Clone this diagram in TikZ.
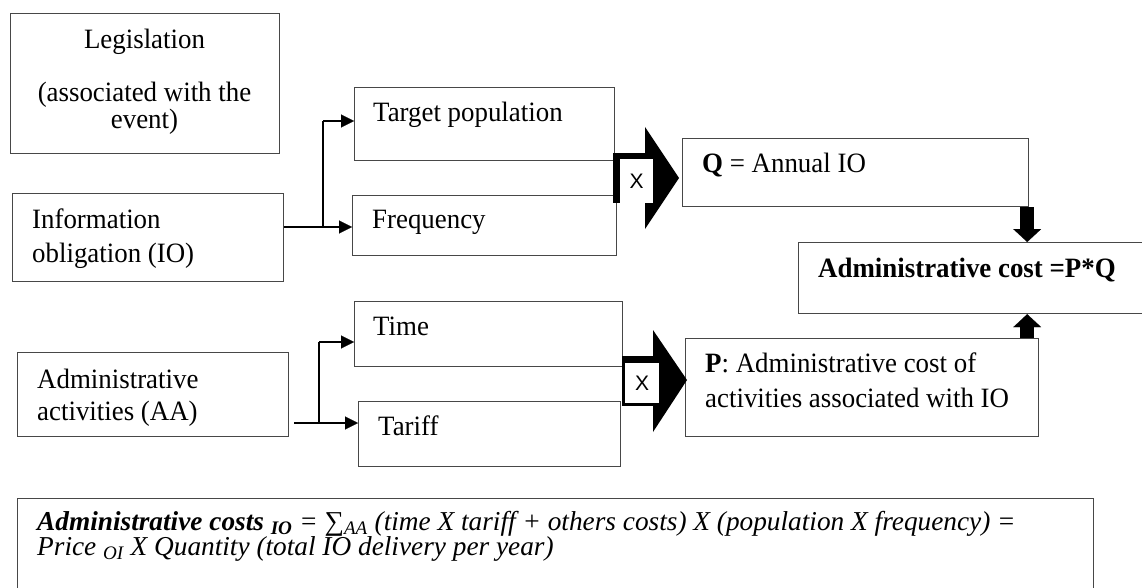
\documentclass[tikz,border=0pt]{standalone}
\usepackage{fontspec}
\setmainfont{Liberation Serif}[FakeStretch=0.96]
\newfontfamily\formfont{Liberation Serif}
\newfontfamily\xsans{Liberation Sans}
\usetikzlibrary{arrows.meta}
\begin{document}
\begin{tikzpicture}[x=1pt,y=-1pt,
  box/.style={draw=black!72,line width=1.2pt,inner sep=0pt,anchor=north west},
  txt/.style={inner sep=0pt,font=\fontsize{28}{33}\selectfont},
  ftxt/.style={inner sep=0pt,anchor=base west,font=\formfont\fontsize{27.3}{25}\selectfont\itshape},
  link/.style={draw=black,line width=1.2pt},
  feed/.style={draw=black,line width=2.6pt,-{Triangle[length=13pt 0 0,width=13pt 0 0,line width=0.1pt 0 0]}},
  fat/.style={draw=black,line width=14pt,-{Triangle[length=13pt 0 0,width=28pt 0 0,line width=0.1pt 0 0]}},
  xbox/.style={fill=white,inner sep=0pt,font=\xsans\fontsize{21}{21}\selectfont}
]
\fill[white] (0,0) rectangle (1142,588);
\useasboundingbox (0,0) rectangle (1142,588);
\begin{scope}
\clip (0,0) rectangle (1142,588);

% boxes
\node[box,minimum width=269pt,minimum height=140pt] (leg) at (10,13) {};
\node[box,minimum width=271pt,minimum height=88pt] (io) at (12,193) {};
\node[box,minimum width=271pt,minimum height=84pt] (aa) at (17,352) {};
\node[box,minimum width=260pt,minimum height=73pt] (tp) at (354,87) {};
\node[box,minimum width=264pt,minimum height=60pt] (fr) at (352,195) {};
\node[box,minimum width=268pt,minimum height=65pt] (ti) at (354,301) {};
\node[box,minimum width=262pt,minimum height=65pt] (ta) at (358,401) {};
\node[box,minimum width=346pt,minimum height=68pt] (q) at (682,138) {};
\node[box,minimum width=360pt,minimum height=71pt] (adm) at (798,242) {};
\node[box,minimum width=353pt,minimum height=98pt] (p) at (685,338) {};
\node[box,minimum width=1076pt,minimum height=110pt] (form) at (17,498) {};

% texts
\node[txt,align=center,anchor=north,font=\fontsize{28}{25}\selectfont] (legt) at (144.5,28.9) {Legislation\\[27pt](associated with the\\event)};
\node[txt,align=left,anchor=north west,font=\fontsize{28}{34}\selectfont] (iot) at (32,208.9) {Information\\obligation (IO)};
\node[txt,align=left,anchor=north west,font=\fontsize{28}{32}\selectfont] (aat) at (37,368.9) {Administrative\\activities (AA)};
\node[txt,anchor=base west] (tpt) at (373,122) {Target population};
\node[txt,anchor=base west] (frt) at (372,228) {Frequency};
\node[txt,anchor=base west] (tit) at (373,335) {Time};
\node[txt,anchor=base west] (tat) at (378,435) {Tariff};
\node[txt,anchor=base west] (qt) at (702,173) {\textbf{Q} = Annual IO};
\node[txt,anchor=base west] (admt) at (818,277) {\textbf{Administrative cost =P*Q}};
\node[txt,align=left,anchor=north west,font=\fontsize{28}{35}\selectfont] (pt) at (705,352.9) {\textbf{P}: Administrative cost of\\activities associated with IO};
\node[ftxt] (formta) at (37,530) {\textbf{Administrative costs} \textsubscript{\textbf{IO}} = ∑\textsubscript{AA} (time X tariff + others costs) X (population X frequency) =};
\node[ftxt] (formtb) at (37,555) {Price \textsubscript{OI} X Quantity (total IO delivery per year)};

% connectors from IO
\coordinate (ioj) at (323,227);
\coordinate (iotop) at (323,121);
\draw[link] (io.east |- ioj) -- (ioj) -- (iotop);
\draw[feed] (iotop) -- (tp.west |- iotop);
\draw[feed] (ioj) -- (fr.west |- ioj);

% connectors from AA
\coordinate (aaj) at (319,423);
\coordinate (aatop) at (319,342);
\draw[link] (aaj) -- (aatop);
\draw[feed] ([xshift=5pt]aa.east |- aaj) -- (ta.west |- aaj);
\draw[feed] (aatop) -- (ti.west |- aatop);

% multiplication arrows
\fill (613,153) rectangle (650,203);
\fill (645,127) -- (679,178) -- (645,229) -- cycle;
\node[xbox,minimum width=33pt,minimum height=44pt] (xq) at (636.5,181) {X};
\fill (622,356) rectangle (656,406);
\fill (653,330) -- (687,380) -- (653,432) -- cycle;
\node[xbox,minimum width=34pt,minimum height=40pt] (xp) at (642,383) {X};

% fat arrows into the cost box
\draw[fat] ([xshift=-2pt]q.south east) -- ([xshift=-2pt]q.south east |- adm.north);
\draw[fat] ([xshift=-12pt]p.north east) -- ([xshift=-12pt]p.north east |- adm.south);
\end{scope}
\end{tikzpicture}
\end{document}
